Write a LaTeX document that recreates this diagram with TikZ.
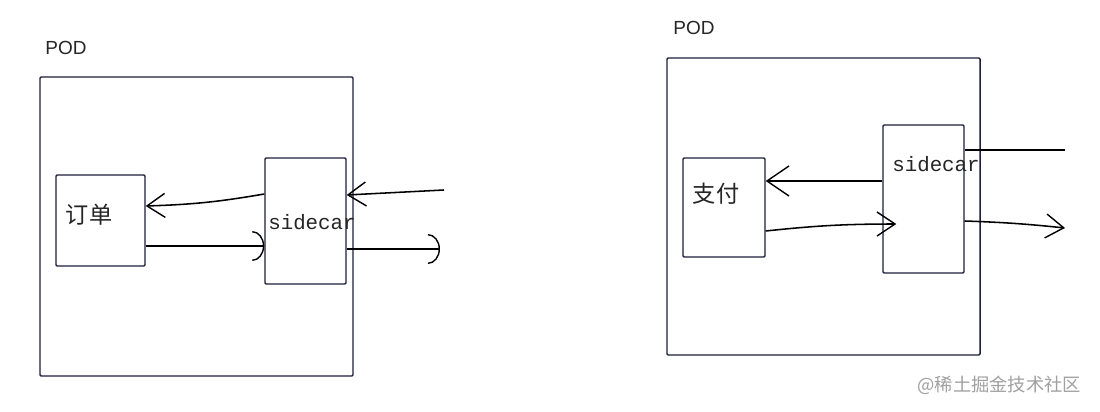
\documentclass[tikz,border=0pt]{standalone}
\usepackage{fontspec}
\newfontfamily\cjk{Noto Sans CJK SC}
\newfontfamily\podfont{Liberation Sans}
\newfontfamily\sidefont{Liberation Mono}
\usetikzlibrary{arrows.meta}
\definecolor{boxcol}{HTML}{1E1E3C}
\definecolor{markcol}{HTML}{A0A0A0}
\tikzset{
  boks/.style={draw=boxcol, line width=1pt, rectangle, rounded corners=0.8pt, inner sep=0pt},
  podtekst/.style={font=\podfont\fontsize{13.5}{13.5}\selectfont, text=black!85},
  cjktekst/.style={font=\cjk\fontsize{16.5}{16.5}\selectfont, text=black!85},
  sidetekst/.style={font=\sidefont\fontsize{14.8}{14.8}\selectfont, text=black!85, anchor=west, inner sep=0pt},
  pil/.style={line width=1.1pt, black},
  spids/.style={-{Straight Barb[length=0.45cm,width=0.6cm,line width=1pt]}},
  bue/.style={-{Arc Barb[length=0.3cm,width=0.75cm,line width=1pt]}}
}
\begin{document}
\begin{tikzpicture}[x=0.025cm,y=-0.025cm]
  %baggrund
  	\fill[white] (0,0) rectangle (1100,412);
  	\useasboundingbox (0,0) rectangle (1100,412);

  %venstre pod
  	\node[podtekst] (podLtxt) at (66,48) {POD};
  	\node[boks, minimum width=7.825cm, minimum height=7.475cm] (podL) at (196.5,226.5) {};
  	\node[boks, minimum width=2.225cm, minimum height=2.275cm] (ordre) at (100.5,220.5) {};
  	\node[cjktekst] (ordretxt) at (89,215) {订单};
  	\node[boks, minimum width=2.025cm, minimum height=3.15cm] (sideL) at (305.5,221) {};
  	\node[sidetekst] (sideLtxt) at (268,222) {sidecar};

  %venstre pile
  	\coordinate (indL) at (444,190);
  	\coordinate (udL) at (440,249);
  	\draw[pil,spids] (sideL.west |- 0,194) to[bend left=4] (ordre.east |- 0,206);
  	\draw[pil,bue] (ordre.east |- 0,246) -- (sideL.west |- 0,246);
  	\draw[pil,spids] (indL) -- (sideL.east |- 0,195);
  	\draw[pil,bue] (sideL.east |- 0,249) -- (udL);

  %hoejre pod
  	\node[podtekst] (podRtxt) at (694,28) {POD};
  	\node[boks, minimum width=7.825cm, minimum height=7.425cm] (podR) at (823.5,206.5) {};
  	\node[boks, minimum width=2.05cm, minimum height=2.475cm] (betal) at (724,207.5) {};
  	\node[cjktekst] (betaltxt) at (716,194) {支付};
  	\node[boks, minimum width=2.025cm, minimum height=3.7cm] (sideR) at (923.5,199) {};
  	\node[sidetekst] (sideRtxt) at (892,164) {sidecar};

  %hoejre pile
  	\coordinate (indR) at (1065,150);
  	\coordinate (udR) at (1065,228);
  	\draw[pil,-{Straight Barb[length=0.55cm,width=0.75cm,line width=1pt]}] (sideR.west |- 0,181) -- (betal.east |- 0,181);
  	\draw[pil,spids] (betal.east |- 0,231) to[bend left=3] ([xshift=0.35cm]sideR.west |- 0,224);
  	\draw[pil] (sideR.east |- 0,150) -- (indR);
  	\draw[pil,spids] (sideR.east |- 0,221) to[bend left=2] (udR);

  %vandmaerke
  	\node[font=\cjk\fontsize{13}{13}\selectfont, text=markcol, anchor=east] (maerke) at (1086,385) {@稀土掘金技术社区};
\end{tikzpicture}
\end{document}
